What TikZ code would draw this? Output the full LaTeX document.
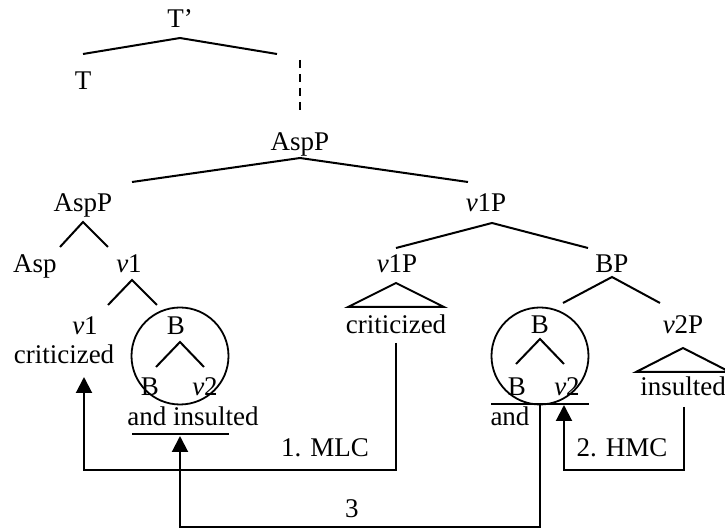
\documentclass[tikz,border=0pt]{standalone}
\usepackage{fontspec}
\setmainfont{Liberation Serif}
\usetikzlibrary{arrows.meta}
\begin{document}
\begin{tikzpicture}[x=0.5pt,y=-0.5pt,
  lab/.style={anchor=base,inner sep=0pt,font=\fontsize{13.5}{15}\selectfont},
  edge/.style={line width=1pt},
  mv/.style={line width=1pt,-{Triangle[width=8pt,length=8pt]}},
  circ/.style={draw,circle,line width=0.9pt,minimum size=48.5pt,inner sep=0pt}]
\useasboundingbox (0,0) rectangle (725,529);
% labels
\node[lab] (Tbar) at (180,28) {T’};
\node[lab] (T) at (83,90) {T};
\node[lab] (AspPtop) at (300,151) {AspP};
\node[lab] (AspPl) at (83,212) {AspP};
\node[lab] (v1Pr) at (486,212) {\textit{v}1P};
\node[lab] (Asp) at (35,273) {Asp};
\node[lab] (v1u) at (129,273) {\textit{v}1};
\node[lab] (v1Pi) at (397,273) {\textit{v}1P};
\node[lab] (BP) at (612,273) {BP};
\node[lab] (v1l) at (85,335) {\textit{v}1};
\node[lab] (crit1) at (64,364) {criticized};
\node[lab] (crit2) at (396,334) {criticized};
\node[lab] (Bl) at (176,335) {B};
\node[lab] (Bll) at (150,396) {B};
\node[lab] (v2l) at (205,396) {\textit{v}2};
\node[lab] (andins) at (193,426) {and insulted};
\node[lab] (Br) at (540,334) {B};
\node[lab] (Brl) at (517,396) {B};
\node[lab] (v2r) at (567,396) {\textit{v}2};
\node[lab] (and) at (510,426) {and};
\node[lab] (v2P) at (683,334) {\textit{v}2P};
\node[lab] (ins) at (683,396) {insulted};
\node[lab] (mlc) at (325,457) {1. MLC};
\node[lab] (hmc) at (622,457) {2. HMC};
\node[lab] (three) at (352,518) {3};
% circles
\node[circ] (cl) at (180,356) {};
\node[circ] (cr) at (540,356) {};
% tree lines
\draw[edge] (83,54) -- (180,38) -- (277,54);
\draw[edge,dash pattern=on 3.8pt off 3.2pt] (300,60) -- (300,110);
\draw[edge] (132,182) -- (300,158) -- (468,182);
\draw[edge] (60,247) -- (83,222) -- (108,247);
\draw[edge] (396,248) -- (492,223) -- (588,248);
\draw[edge] (108,305) -- (132,280) -- (157,305);
\draw[edge] (563,303) -- (612,277) -- (660,303);
\draw[edge] (156,367) -- (180,342) -- (204,367);
\draw[edge] (516,364) -- (540,339) -- (564,364);
\draw[edge] (348,307) -- (396,283) -- (444,307) -- cycle;
\draw[edge] (636,372) -- (683,348) -- (730,372) -- cycle;
% underlines
\draw[edge] (132,434) -- (229,434);
\draw[edge] (491,404) -- (589,404);
% movement arrows
\coordinate (m1a) at (396,343);
\coordinate (m1b) at (396,470);
\coordinate (m1c) at (84,470);
\coordinate (m1d) at (84,377);
\draw[mv] (m1a) -- (m1b) -- (m1c) -- (m1d);
\coordinate (m2a) at (684,407);
\coordinate (m2b) at (684,470);
\coordinate (m2c) at (564,470);
\coordinate (m2d) at (564,405);
\draw[mv] (m2a) -- (m2b) -- (m2c) -- (m2d);
\coordinate (m3a) at (540,404);
\coordinate (m3b) at (540,527);
\coordinate (m3c) at (180,527);
\coordinate (m3d) at (180,436);
\draw[mv] (m3a) -- (m3b) -- (m3c) -- (m3d);
\end{tikzpicture}
\end{document}
